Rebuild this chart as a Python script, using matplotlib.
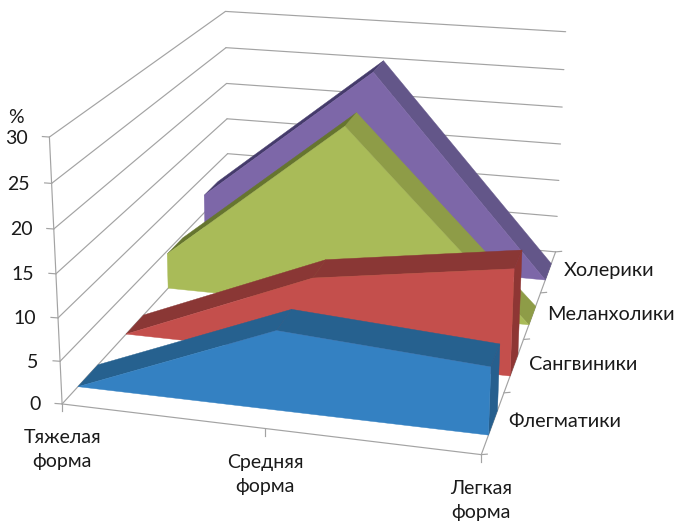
import numpy as np
import matplotlib
matplotlib.use("Agg")
import matplotlib.pyplot as plt
from matplotlib.patches import Polygon

plt.rcParams['font.family'] = ['Lato', 'Noto Sans', 'DejaVu Sans']

# Chart data
severity_labels = ["Тяжелая\nформа", "Средняя\nформа", "Легкая\nформа"]
severity_pos = [0.0, 0.5, 1.0]
y_ticks = [0, 5, 10, 15, 20, 25, 30]
y_max = 30
temperaments = ["Флегматики", "Сангвиники", "Меланхолики", "Холерики"]
phlegmatic = [0, 9.2, 7.7]
sanguine = [0, 9.4, 12.8]
melancholic = [4.6, 23.0, 0]
choleric = [7.4, 25.8, 0]
series_values = [phlegmatic, sanguine, melancholic, choleric]

# Styles per series: front face, end face, strip colour for each top segment
front_colors = ["#3481C2", "#C44F4C", "#A9BB58", "#7D67A8"]
side_colors = ["#265F8E", "#8E3634", "#8E9C47", "#635689"]
top_colors = [["#26618F", "#26618F"], ["#8A3735", "#8A3735"],
              ["#66752F", "#8E9C47"], ["#453B6B", "#635689"]]
GRID = "#A3A3A3"
TEXT = "#1A1A1A"
BAND_DEPTH = 0.1

# Camera: projective map from (category, value, depth) to figure pixels,
# calibrated on the corners and ticks of the plot box.
calibration = [((0, 0, 0), (62, 404)), ((1, 0, 0), (479, 454)), ((0, 30, 0), (49.5, 137)),
               ((0, 15, 0), (56.7, 274)), ((0, 0, 1), (229, 222)), ((0, 30, 1), (225, 11)),
               ((0, 15, 1), (227, 119)), ((1, 0, 1), (553.5, 252)), ((1, 30, 1), (566, 32)),
               ((1, 15, 1), (560, 144)), ((1, 0, .25), (506, 393)), ((1, 0, .5), (524, 339)),
               ((1, 0, .75), (543, 293)), ((.5, 0, 0), (264, 429))]
rows = []
for (cx, cy, cz), (u, v) in calibration:
    X = [cx, cy / y_max, cz, 1]
    rows.append(X + [0] * 4 + [-u * c for c in X])
    rows.append([0] * 4 + X + [-v * c for c in X])
CAMERA = np.linalg.svd(np.array(rows, float))[2][-1].reshape(3, 4)


def project(x, value, depth):
    h = CAMERA @ np.array([x, value / y_max, depth, 1.0])
    return h[:2] / h[2]


def poly(ax, pts, color, z):
    ax.add_patch(Polygon(pts, closed=True, facecolor=color, edgecolor=color,
                         linewidth=0.3, zorder=z))


def line(ax, a, b, z=1, lw=0.85):
    ax.plot([a[0], b[0]], [a[1], b[1]], color=GRID, lw=lw, zorder=z, solid_capstyle='round')


fig = plt.figure(figsize=(6.76, 5.22), dpi=100)
ax = fig.add_axes([0, 0, 1, 1])
ax.set_xlim(0, 676)
ax.set_ylim(522, 0)
ax.axis('off')

# Walls: value gridlines on the left and back sides
for t in y_ticks:
    a, b, c = project(0, t, 0), project(0, t, 1), project(1, t, 1)
    line(ax, a, b)
    line(ax, b, c)
    ax.plot([a[0] - 7, a[0]], [a[1] - 0.5, a[1]], color=GRID, lw=0.85, zorder=1)
    ax.text(a[0] - 21.5, a[1] + 1, str(t), ha='right', va='center', fontsize=14, color=TEXT)

# Box edges
line(ax, project(0, 0, 0), project(0, y_max, 0))
line(ax, project(0, 0, 0), project(1, 0, 0))
line(ax, project(1, 0, 0), project(1, 0, 1))

origin_top = project(0, y_max, 0)
ax.text(origin_top[0] - 33.5, origin_top[1] - 20, "%", ha='center', va='center',
        fontsize=14, color=TEXT)

# Category ticks and labels
for x, label in zip(severity_pos, severity_labels):
    p = project(x, 0, 0)
    ax.plot([p[0], p[0]], [p[1], p[1] + 7], color=GRID, lw=0.85, zorder=1)
    ax.text(p[0], p[1] + 46, label, ha='center', va='center', fontsize=14,
            color=TEXT, linespacing=1.5)

# Depth ticks and series labels
for i in range(5):
    p = project(1, 0, i / 4)
    ax.plot([p[0], p[0] + 6], [p[1], p[1] - 0.5], color=GRID, lw=0.85, zorder=1)
for i, name in enumerate(temperaments):
    p = project(1, 0, (i + 0.5) / 4)
    ax.text(p[0] + 15, p[1] - 1, name, ha='left', va='center', fontsize=14.3, color=TEXT)

# Area bands, from the back of the chart to the front
for i in reversed(range(len(series_values))):
    vals = series_values[i]
    base = 10 + (3 - i) * 5
    zc = (i + 0.5) / 4
    z0, z1 = zc - BAND_DEPTH / 2, zc + BAND_DEPTH / 2
    for k in range(len(vals) - 1):
        strip = [project(severity_pos[k], vals[k], z0), project(severity_pos[k + 1], vals[k + 1], z0),
                 project(severity_pos[k + 1], vals[k + 1], z1), project(severity_pos[k], vals[k], z1)]
        poly(ax, strip, top_colors[i][k], base)
    end = [project(1, vals[-1], z0), project(1, vals[-1], z1),
           project(1, 0, z1), project(1, 0, z0)]
    poly(ax, end, side_colors[i], base + 1)
    front = [project(x, v, z0) for x, v in zip(severity_pos, vals)]
    front += [project(1, 0, z0), project(0, 0, z0)]
    poly(ax, front, front_colors[i], base + 2)

fig.savefig('out.png', dpi=100)
